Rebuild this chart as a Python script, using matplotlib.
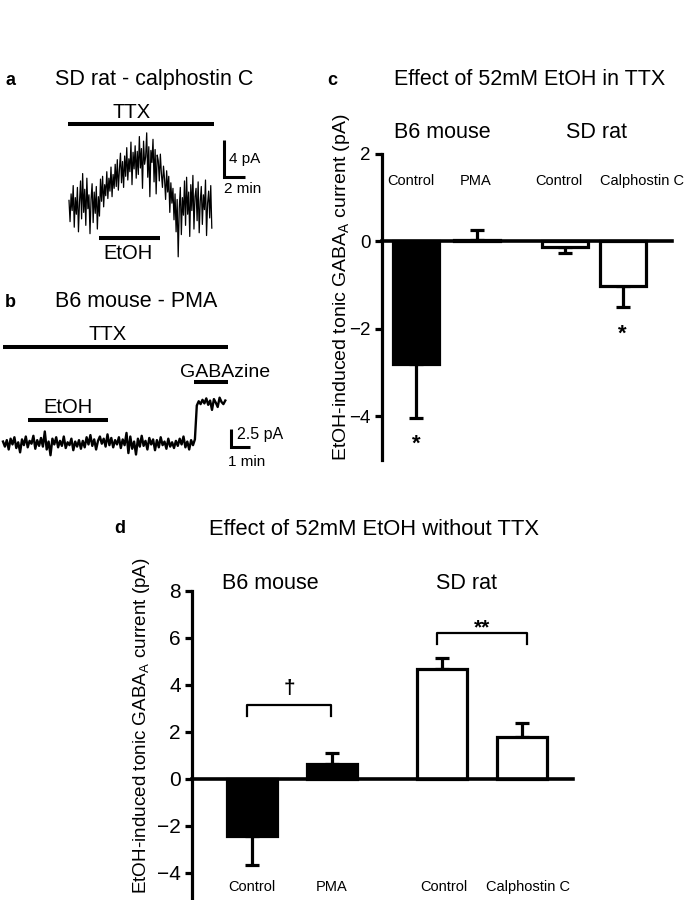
import numpy as np
import matplotlib
matplotlib.use('Agg')
import matplotlib.pyplot as plt
from matplotlib import font_manager

W, H, DPI = 684, 900, 100

names = {f.name for f in font_manager.fontManager.ttflist}
SANS = 'Liberation Sans' if 'Liberation Sans' in names else 'DejaVu Sans'

plt.rcParams['font.family'] = [SANS, 'DejaVu Sans']
plt.rcParams['mathtext.fontset'] = 'custom'
plt.rcParams['mathtext.rm'] = SANS
plt.rcParams['mathtext.it'] = SANS + ':italic'
plt.rcParams['axes.unicode_minus'] = True

# ---------------- data ----------------
# panel a: holding current trace (pA, relative to baseline), one sample per 0.1 min
trace_a_dt = 0.1
trace_a = [
    0.5, -1.8, 1.2, -0.6, 2.1, -2.4, 0.8, -1.0, 1.9, -2.9, 0.3, 2.6, -1.5, 3.4, -0.8,
    1.7, -2.2, 2.9, -0.4, 1.1, -3.1, 0.6, 2.3, -1.9, 1.4, -0.9, 2.0, -2.6, 0.9, -1.2,
    2.8, 0.4, 3.1, -0.2, 2.2, 1.0, 3.6, 0.7, 2.9, 1.5, 4.1, 0.9, 3.3, 1.8, 4.4,
    2.0, 4.9, 1.6, 3.8, 5.6, 2.4, 4.7, 1.9, 5.3, 3.1, 6.2, 2.7, 5.0, 3.6, 6.8, 2.2, 5.7, 3.9, 6.4, 2.9,
    5.8, 3.3, 7.4, 4.0, 6.1, 1.8, 6.9, 4.4, 5.2, 7.8, 3.0, 6.3, 0.9, 5.9, 4.6, 7.1, 2.5, 6.0, 1.2, 5.4,
    4.8, 2.6, 5.5, 3.4, 1.9, 4.2, 2.8, 0.6, 3.7, 1.4, 3.1, -0.8, 2.4, 0.2, 1.8,
    -1.6, 1.2, -2.9, 0.6, -5.6, -0.4, 1.9, -3.2, 0.8, -1.1,
    2.6, -2.2, 3.0, -1.0, 1.4, -3.4, 2.2, -0.6, 3.2, -2.6, 0.9, 1.8, -1.7, 2.5, -3.0,
    0.4, 2.0, -2.1, 1.1, -0.5, 2.7, -3.3, 0.2, 1.5, -1.4, 2.1, -2.5,
]
a_ttx_min = (-0.1, 13.8)
a_etoh_min = (2.86, 8.67)

# panel b: holding current trace (pA), one sample per 0.1 min
trace_b_dt = 0.1
trace_b = [
    0.2, -0.5, 0.4, -0.9, 0.6, -0.2, 0.8, -0.7, 0.1, -1.3, 0.5, -0.3, 0.9, -0.6, 0.3, -0.1, 1.0, -0.8, 0.4, -0.4,
    0.7, -0.5, 1.6, -0.9, 0.2, -1.7, 0.6, -0.2, 0.8, -0.6, 0.3, -0.4, 0.9, -0.7, 0.1, -0.3, 0.6, -1.0, 0.2, -0.5,
    0.4, -0.8, 0.3, -0.6, 0.8, -0.2, 1.1, -0.4, 0.5, -0.9, 0.3, 0.9, -0.1, 0.6, -0.5, 1.2, -0.3, 0.7, -0.6, 0.4,
    -0.2, 0.8, -0.7, 0.5, -0.3, 1.4, -1.4, 0.9, -0.8, 0.2, -1.6, 0.6, -0.5, 1.0, -0.4, 0.3, -0.9, 0.7, -0.2, 0.5,
    -1.0, 0.4, -0.6, 0.8, -0.3, 0.2, -0.8, 0.6, -0.5, 0.1, -0.7, 0.3, -0.4, 0.6, -0.2, 0.9, -0.6, 0.2, -0.9, 0.4,
    -0.3, 0.5,
    5.2, 5.8, 5.4, 6.0, 5.5, 6.2, 5.3, 5.9, 4.6, 6.1, 5.6, 5.0, 6.3, 5.7, 5.4, 5.9,
]
b_ttx_min = (0.0, 11.84)
b_etoh_min = (1.32, 5.53)
b_gabazine_min = (10.05, 11.84)

# panels c and d: EtOH-induced tonic GABA_A current (pA), mean and SEM
groups = ['B6 mouse', 'SD rat']
conditions = ['Control', 'PMA', 'Control', 'Calphostin C']
bar_colors = ['black', 'black', 'white', 'white']
c_means = [-2.80, 0.03, -0.13, -1.02]
c_sems = [1.23, 0.22, 0.15, 0.48]
c_sig = ['*', '', '', '*']
c_yticks = [-4, -2, 0, 2]
d_means = [-2.43, 0.62, 4.67, 1.80]
d_sems = [1.23, 0.47, 0.49, 0.57]
d_yticks = [-4, -2, 0, 2, 4, 6, 8]
d_compare = [(0, 1, '\u2020'), (2, 3, '**')]

# ---------------- helpers ----------------
fig = plt.figure(figsize=(W / DPI, H / DPI), dpi=DPI, facecolor='white')


def fx(px):
    return px / W


def fy(py):
    return 1 - py / H


def px_axes(left, top, right, bottom):
    return fig.add_axes([fx(left), fy(bottom), (right - left) / W, (bottom - top) / H])


def txt(x, y, s, size, ha='center', va='baseline', weight='normal', rotation=0):
    fig.text(fx(x), fy(y), s, fontsize=size, ha=ha, va=va,
             family=[SANS, 'DejaVu Sans'], fontweight=weight, rotation=rotation)


def trace_axes(left, top, right, bottom, x0, pxmin, y0, pxpa):
    ax = px_axes(left, top, right, bottom)
    ax.set_xlim((left - x0) / pxmin, (right - x0) / pxmin)
    ax.set_ylim((y0 - bottom) / pxpa, (y0 - top) / pxpa)
    ax.axis('off')
    return ax


# ---------------- panel a ----------------
axa = trace_axes(0, 60, 300, 280, 69, 10.5, 205, 9.25)
ta = np.arange(len(trace_a)) * trace_a_dt
axa.plot(ta, trace_a, color='black', lw=0.9)
axa.plot(a_ttx_min, [8.76, 8.76], color='black', lw=2.9, solid_capstyle='butt')
axa.plot(a_etoh_min, [-3.57, -3.57], color='black', lw=2.9, solid_capstyle='butt')
axa.plot([14.76, 14.76, 16.76], [7.03, 3.03, 3.03], color='black', lw=2.2,
         solid_joinstyle='miter', solid_capstyle='butt')
txt(5, 85, 'a', 13, ha='left', weight='bold')
txt(55, 85, 'SD rat - calphostin C', 15.5, ha='left')
txt(132, 118, 'TTX', 14.5)
txt(128, 259, 'EtOH', 14.5)
txt(229, 163, '4 pA', 11, ha='left')
txt(243, 193, '2 min', 11)

# ---------------- panel b ----------------
axb = trace_axes(0, 320, 300, 480, 3, 19.0, 443, 7.2)
tb = np.arange(len(trace_b)) * trace_b_dt
axb.plot(tb, trace_b, color='black', lw=1.7)
axb.plot(b_ttx_min, [13.33, 13.33], color='black', lw=2.9, solid_capstyle='butt')
axb.plot(b_gabazine_min, [8.47, 8.47], color='black', lw=2.9, solid_capstyle='butt')
axb.plot(b_etoh_min, [3.19, 3.19], color='black', lw=2.9, solid_capstyle='butt')
axb.plot([12.0, 12.0, 13.0], [1.94, -0.56, -0.56], color='black', lw=2.2,
         solid_joinstyle='miter', solid_capstyle='butt')
txt(5, 307, 'b', 13, ha='left', weight='bold')
txt(55, 307, 'B6 mouse - PMA', 15.5, ha='left')
txt(108, 340, 'TTX', 14.5)
txt(225, 377, 'GABAzine', 14)
txt(68, 413, 'EtOH', 14.5)
txt(237, 439, '2.5 pA', 11.5, ha='left')
txt(247, 466, '1 min', 11)


# ---------------- bar panels ----------------
def bar_panel(ax, pos, means, sems, width, ylim, yticks, tick_size, capsize):
    ax.set_ylim(*ylim)
    ax.bar(pos, means, width=width, color=bar_colors, edgecolor='black', linewidth=2.3, zorder=3)
    lower = [s if m < 0 else 0 for m, s in zip(means, sems)]
    upper = [s if m >= 0 else 0 for m, s in zip(means, sems)]
    ax.errorbar(pos, means, yerr=[lower, upper], fmt='none', ecolor='black', elinewidth=2.3,
                capsize=capsize, capthick=2.3, zorder=2)
    for side in ('top', 'right'):
        ax.spines[side].set_visible(False)
    ax.spines['bottom'].set_position(('data', 0))
    ax.spines['left'].set_linewidth(2.3)
    ax.spines['bottom'].set_linewidth(2.6)
    ax.spines['bottom'].set_zorder(4)
    ax.set_xticks([])
    ax.set_yticks(yticks)
    ax.tick_params(axis='y', direction='out', length=5, width=2.3, pad=3, labelsize=tick_size)
    ax.patch.set_alpha(0)


# panel c
c_pos = [0, 1, 2.44, 3.39]
axc = px_axes(382, 153.5, 672, 460)
axc.set_xlim(-0.557, 4.197)
bar_panel(axc, c_pos, c_means, c_sems, 0.75, (-5, 2), c_yticks, 13.5, 4.8)
for p, m, s, sig in zip(c_pos, c_means, c_sems, c_sig):
    if sig:
        axc.text(p, m - s - 0.62, sig, ha='center', va='center', fontsize=16, fontweight='bold')
c_label_x = [-0.08, 0.97, 2.34, 3.70]
for lx, lab in zip(c_label_x, conditions):
    axc.text(lx, 1.28, lab, ha='center', va='baseline', fontsize=10.5)
txt(327, 85, 'c', 13, ha='left', weight='bold')
txt(394, 85, 'Effect of 52mM EtOH in TTX', 15.5, ha='left')
txt(442, 138, groups[0], 15.5)
txt(597, 138, groups[1], 15.5)
txt(341, 287, 'EtOH-induced tonic GABA$_\\mathrm{A}$ current (pA)', 14, va='center', rotation=90)

# panel d
d_pos = [0, 1, 2.375, 3.375]
axd = px_axes(192, 591, 573, 900)
axd.set_xlim(-0.75, 4.0125)
bar_panel(axd, d_pos, d_means, d_sems, 0.625, (-5.15, 8), d_yticks, 15, 5.0)
d_bracket_y = [(3.15, 2.68), (6.2, 5.75)]
for (i, j, sym), (ytop, yleg) in zip(d_compare, d_bracket_y):
    x1, x2 = d_pos[i] - 0.06, d_pos[j] - 0.01 + (0.07 if j == 3 else 0)
    axd.plot([x1, x1, x2, x2], [yleg, ytop, ytop, yleg], color='black', lw=1.6, zorder=5)
    off = 0.72 if sym == '\u2020' else 0.22
    axd.text((x1 + x2) / 2, ytop + off, sym, ha='center', va='center', fontsize=15,
             fontweight='bold')
d_label_x = [0.0, 1.0, 2.4, 3.45]
for lx, lab in zip(d_label_x, conditions):
    axd.text(lx, -4.77, lab, ha='center', va='baseline', fontsize=10.5)
txt(114, 533, 'd', 13, ha='left', weight='bold')
txt(374, 535, 'Effect of 52mM EtOH without TTX', 15.8)
txt(270, 589, groups[0], 15.5)
txt(467, 589, groups[1], 15.5)
txt(141, 726, 'EtOH-induced tonic GABA$_\\mathrm{A}$ current (pA)', 13.6, va='center', rotation=90)

fig.savefig('out.png', dpi=DPI, facecolor='white')
